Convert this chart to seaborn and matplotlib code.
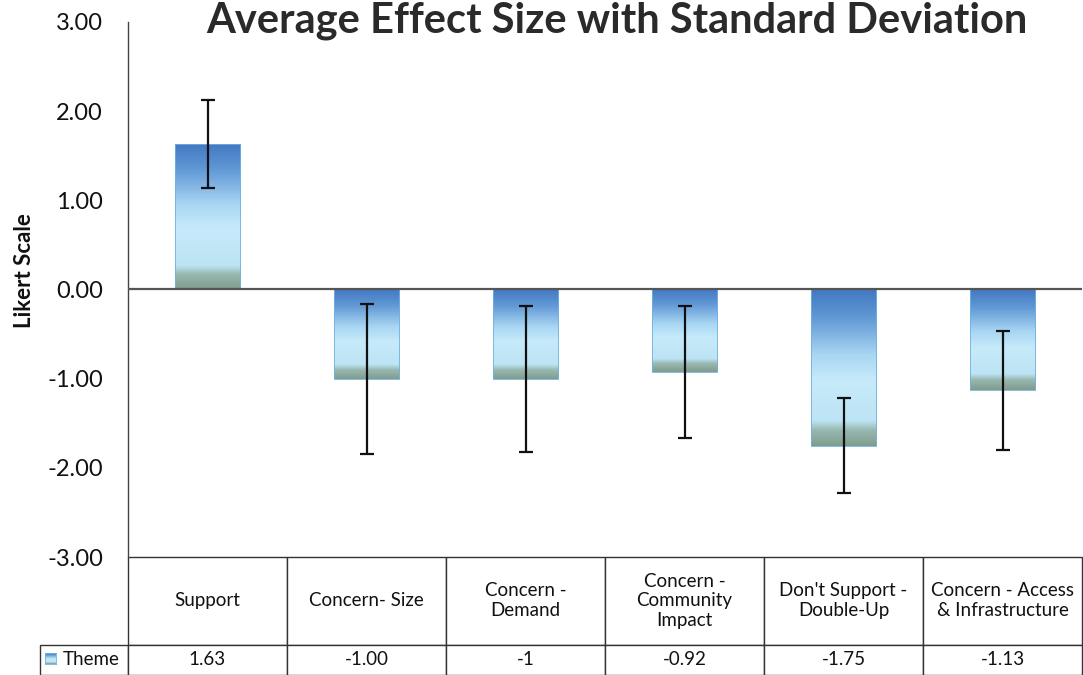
import numpy as np
import pandas as pd
import matplotlib
matplotlib.use("Agg")
import matplotlib.pyplot as plt
import seaborn as sns
from matplotlib.colors import LinearSegmentedColormap
from matplotlib.table import Table

# ---- data ----
categories = ["Support", "Concern- Size", "Concern -\nDemand", "Concern -\nCommunity\nImpact",
              "Don't Support -\nDouble-Up", "Concern - Access\n& Infrastructure"]
means = [1.63, -1.00, -1.00, -0.92, -1.75, -1.13]
std_devs = [0.49, 0.84, 0.82, 0.74, 0.53, 0.67]
table_values = ["1.63", "-1.00", "-1", "-0.92", "-1.75", "-1.13"]
series_name = "Theme"
y_ticks = [-3, -2, -1, 0, 1, 2, 3]

df = pd.DataFrame({"category": categories, "mean": means})

sns.set_style("white")
plt.rcParams["font.family"] = ["Lato", "DejaVu Sans"]

W, H = 1083, 675
fig = plt.figure(figsize=(W / 100, H / 100), dpi=100)
ax_left, ax_right, ax_top, ax_bot = 128, 1082, 22, 557
AW, AH = ax_right - ax_left, ax_bot - ax_top
ax = fig.add_axes([ax_left / W, 1 - ax_bot / H, AW / W, AH / H])

sns.barplot(data=df, x="category", y="mean", width=0.41, errorbar=None, ax=ax, color="#7fb8e6")

# gradient fill
cmap = LinearSegmentedColormap.from_list("bar", [
    (0.0, "#4278c2"), (0.18, "#6198d5"), (0.42, "#a9d6f3"), (0.58, "#c6eafa"),
    (0.84, "#bde4f4"), (0.9, "#98b8b0"), (1.0, "#809c8e")])
grad = np.linspace(0, 1, 256).reshape(-1, 1)
for p in list(ax.patches):
    x0, y0, w, h = p.get_x(), p.get_y(), p.get_width(), p.get_height()
    ylo, yhi = min(y0, y0 + h), max(y0, y0 + h)
    im = ax.imshow(grad, cmap=cmap, aspect="auto", extent=[x0, x0 + w, ylo, yhi],
                   origin="upper", zorder=2, interpolation="bilinear")
    im.set_clip_path(p)
    p.set_facecolor("none")
    p.set_edgecolor("#6fb2e2")
    p.set_linewidth(0.6)
    p.set_zorder(2.5)

ax.errorbar(x=np.arange(len(categories)), y=means, yerr=std_devs, fmt="none",
            ecolor="#111111", elinewidth=1.6, capsize=5, capthick=1.6, zorder=4)
ax.axhline(0, color="#555555", lw=1.6, zorder=3)

ax.set_xlim(-0.5, len(categories) - 0.5)
ax.set_ylim(-3, 3)
ax.set_yticks(y_ticks)
ax.set_yticklabels([f"{v:.2f}" for v in y_ticks], fontsize=17, color="#111111")
ax.tick_params(axis="y", length=0, pad=18)
ax.set_xticks([])
ax.set_xlabel("")
ax.set_ylabel("Likert Scale", fontsize=16, fontweight="bold", color="#111111")
ax.yaxis.set_label_coords(-0.098, 0.536)
for s in ["top", "right", "bottom"]:
    ax.spines[s].set_visible(False)
ax.spines["left"].set_color("#444444")
ax.spines["left"].set_linewidth(1.0)

# data table (row-label column sits left of the bbox)
tbl = Table(ax, bbox=[0, -118 / AH, 1, 118 / AH])
cw = 1 / len(categories)
for j, cat in enumerate(categories):
    tbl.add_cell(0, j, width=cw, height=87 / AH, text=cat, loc="center")
    tbl.add_cell(1, j, width=cw, height=30 / AH, text=table_values[j], loc="center")
tbl.add_cell(1, -1, width=88 / AW, height=30 / AH, text=series_name, loc="right")
tbl.auto_set_font_size(False)
tbl.set_fontsize(13.5)
for (r, c), cell in tbl.get_celld().items():
    cell.set_edgecolor("#333333")
    cell.set_linewidth(1.0)
    cell.get_text().set_color("#111111")
ax.add_table(tbl)

# legend key in the row label cell
kax = fig.add_axes([45 / W, 1 - 664 / H, 11 / W, 11 / H])
kax.imshow(grad, cmap=cmap, aspect="auto", interpolation="bilinear")
kax.set_xticks([]); kax.set_yticks([])
for s in kax.spines.values():
    s.set_color("#6fb2e2"); s.set_linewidth(0.6)

fig.text(617 / W, 1 - 21 / H, "Average Effect Size with Standard Deviation",
         ha="center", va="center", fontsize=30, fontweight="bold", color="#2a2a2a")

fig.savefig("out.png", dpi=100)
